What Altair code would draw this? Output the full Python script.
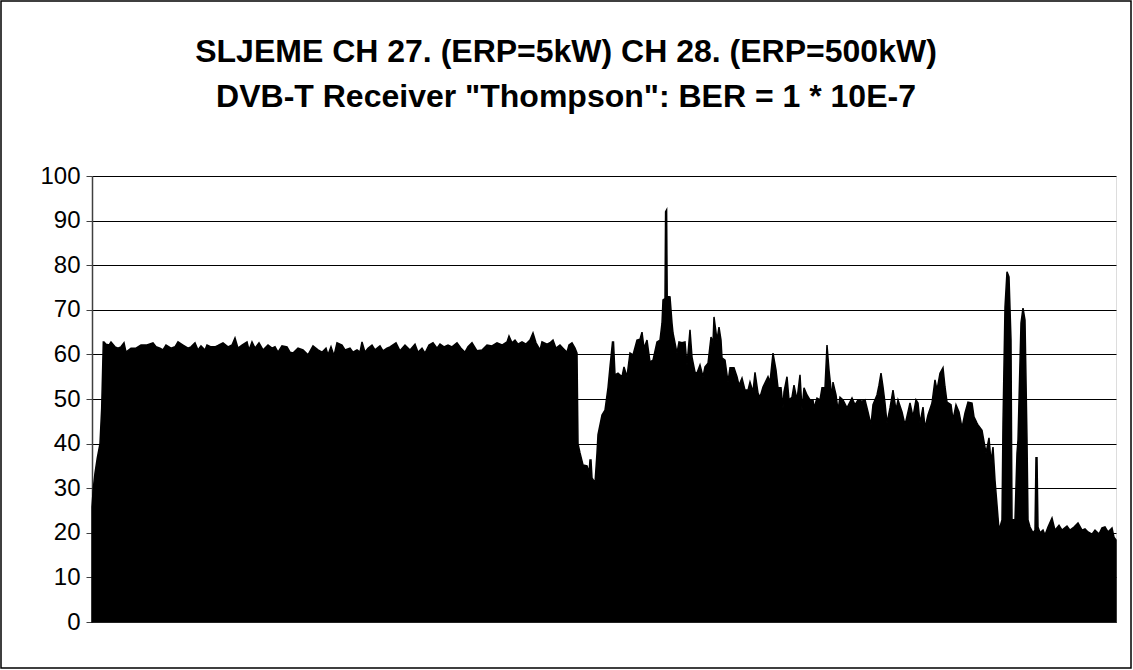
import altair as alt
import pandas as pd

# Spectrum trace: position along the sweep (0..1024) and level (0..100)
pos = [0, 1.3, 3, 5.3, 8, 9.7, 11.3, 12, 14, 17, 19, 23, 26, 29, 32, 34, 39, 44, 49, 55, 61, 64, 68, 71, 74, 79, 83, 86, 91, 96, 99, 103, 106, 109, 113, 115, 119, 123, 126, 131, 136, 140, 143, 146, 150, 155, 157, 160, 163, 167, 171, 176, 180, 183, 186, 190, 195, 198, 201, 206, 211, 216, 221, 226, 230, 234, 236, 239, 242, 245, 250, 253, 258, 261, 265, 268, 270, 273, 276, 280, 283, 288, 291, 295, 298, 304, 308, 313, 318, 323, 326, 330, 333, 337, 341, 345, 348, 352, 356, 360, 365, 369, 373, 376, 380, 385, 390, 395, 400, 405, 410, 415, 417, 420, 423, 426, 430, 434, 438, 441, 444, 448, 450, 455, 458, 461, 464, 468, 471, 475, 477, 480, 483, 485, 486, 488, 491, 495, 497, 498, 499, 500, 503, 505, 506, 510, 513, 516, 518, 520.5, 521.5, 523, 526, 530, 532, 535, 538, 541, 545, 548, 550, 552, 555, 558, 561, 565, 568, 570, 571, 573, 573.6, 574.6, 575.2, 578, 580, 581, 585, 587, 590, 593, 595, 598, 600, 603, 605, 608, 611, 613, 616, 619, 621, 622, 625, 627, 629, 630, 633, 636, 638, 642, 645, 647, 650, 653, 656, 658, 661, 663, 666, 668, 671, 676, 678, 681, 684, 686, 689, 691, 692, 695, 697, 700, 702, 705, 708, 710, 712, 715, 718, 721, 722, 725, 728, 730, 733, 735, 737, 740, 741, 744, 746, 748, 751, 755, 760, 763, 766, 770, 773, 776, 779, 781, 785, 787, 789, 791, 793, 795, 798, 801, 804, 806, 810, 813, 816, 818, 821, 824, 826, 828, 831, 833, 836, 840, 843, 845, 848, 851, 853, 855, 859, 861, 864, 867, 870, 873, 876, 880, 882, 885, 886, 890, 894, 897, 899, 901, 903, 906, 907, 910, 911, 913, 915, 917, 919, 920, 923, 925, 926, 929, 931, 933, 935, 936, 938, 941, 943, 944, 945, 946, 948, 951, 953, 956, 960, 963, 967, 970, 975, 978, 982, 986, 990, 993, 996, 1000, 1003, 1007, 1010, 1013, 1016, 1020, 1022, 1024]

level = [25.8, 30.0, 33.4, 36.8, 40.0, 48.0, 62.8, 62.8, 62.3, 62.1, 62.8, 61.7, 61.4, 61.7, 62.6, 60.5, 61.4, 61.4, 62.1, 62.1, 62.6, 61.7, 61.4, 61.0, 62.1, 61.4, 61.7, 62.8, 62.1, 61.4, 61.7, 62.6, 61.0, 61.9, 61.0, 62.1, 61.7, 61.7, 62.0, 62.6, 61.7, 62.1, 63.7, 61.4, 62.1, 62.8, 61.0, 62.8, 61.4, 62.6, 61.0, 62.1, 61.4, 61.7, 60.5, 61.9, 61.7, 60.5, 60.3, 61.4, 61.0, 59.9, 61.9, 61.0, 60.5, 61.4, 59.9, 61.7, 59.7, 62.6, 62.1, 61.0, 61.4, 60.5, 61.0, 60.5, 62.8, 60.5, 61.4, 62.1, 61.0, 61.9, 60.8, 61.4, 61.7, 62.6, 60.8, 62.1, 61.0, 62.3, 60.5, 61.4, 60.3, 62.1, 62.6, 61.4, 62.3, 61.7, 62.1, 61.7, 62.6, 61.4, 60.5, 61.7, 62.6, 60.8, 61.0, 62.1, 61.9, 62.6, 62.1, 62.8, 64.1, 62.6, 63.2, 62.3, 62.8, 62.3, 63.2, 64.8, 62.6, 61.0, 62.8, 62.3, 62.6, 63.2, 61.4, 62.1, 61.4, 60.5, 62.1, 62.6, 61.4, 60.3, 40.0, 37.9, 35.2, 35.0, 33.5, 36.3, 36.3, 32.3, 31.2, 37.9, 42.0, 46.4, 47.5, 52.5, 57.2, 62.8, 62.8, 55.4, 55.8, 55.0, 57.2, 55.0, 60.3, 59.9, 63.2, 63.4, 65.0, 61.4, 63.2, 58.3, 58.7, 62.8, 63.2, 67.0, 72.2, 72.5, 92.0, 92.4, 73.0, 72.9, 67.0, 64.8, 60.3, 62.8, 62.6, 62.8, 57.6, 65.5, 59.4, 56.0, 55.8, 57.6, 55.0, 57.2, 58.0, 63.9, 62.6, 68.4, 63.2, 66.1, 63.2, 59.2, 58.7, 53.8, 57.0, 57.0, 55.0, 53.1, 54.7, 52.0, 52.0, 53.8, 51.6, 56.0, 51.3, 50.4, 52.7, 55.0, 53.8, 60.3, 56.5, 52.5, 52.5, 48.0, 51.6, 55.0, 49.8, 50.4, 53.1, 49.8, 55.4, 47.5, 52.5, 50.9, 49.8, 49.8, 48.0, 50.2, 49.8, 52.5, 52.5, 62.1, 56.5, 50.2, 53.8, 50.9, 47.5, 50.4, 49.8, 48.0, 50.2, 48.7, 49.8, 49.5, 49.8, 47.1, 44.2, 48.7, 50.9, 53.1, 55.8, 52.7, 49.1, 44.6, 48.0, 52.0, 47.5, 49.8, 47.1, 44.2, 47.1, 49.1, 46.0, 49.8, 49.1, 44.6, 48.2, 43.5, 46.4, 49.1, 54.3, 52.0, 55.8, 57.0, 52.7, 49.3, 48.7, 45.3, 48.7, 47.1, 43.5, 46.9, 49.3, 49.1, 46.0, 44.6, 44.2, 43.0, 37.9, 41.3, 35.9, 39.2, 31.8, 23.5, 20.6, 22.9, 44.6, 70.6, 78.5, 77.4, 63.2, 22.9, 22.9, 37.9, 40.8, 67.0, 70.4, 67.7, 40.8, 22.9, 21.3, 20.0, 20.6, 36.8, 36.8, 21.3, 20.0, 20.6, 19.5, 21.3, 23.3, 20.6, 21.7, 20.6, 21.5, 20.6, 21.3, 22.2, 20.6, 20.9, 20.2, 19.7, 20.6, 19.7, 21.1, 21.3, 20.2, 21.1, 19.0, 18.4]

title_lines = ['SLJEME CH 27. (ERP=5kW) CH 28. (ERP=500kW)',
               'DVB-T Receiver "Thompson": BER = 1 * 10E-7']
y_ticks = list(range(0, 101, 10))

FONT = "Liberation Sans"
W, H = 1024, 446

df = pd.DataFrame({"pos": pos, "level": level})

area = alt.Chart(df).mark_area(
    color="black", stroke="black", strokeWidth=1.5, interpolate="linear"
).encode(
    x=alt.X("pos:Q", scale=alt.Scale(domain=[0, 1024], nice=False, zero=False),
            axis=alt.Axis(labels=False, ticks=False, title=None, grid=False,
                          domainColor="#808080", domainWidth=1)),
    y=alt.Y("level:Q", scale=alt.Scale(domain=[0, 100], nice=False),
            axis=alt.Axis(values=y_ticks, title=None, grid=True, gridColor="black",
                          gridWidth=1, gridOpacity=1, labelFont=FONT, labelFontSize=24,
                          labelColor="black", labelPadding=6, tickSize=6,
                          tickColor="#404040", domainColor="#404040", domainWidth=1.5)),
)

tdf = pd.DataFrame({"t": title_lines, "yy": [-114, -69]})
titles = alt.Chart(tdf).mark_text(
    font=FONT, fontSize=32, fontWeight="bold", color="black",
    align="center", baseline="alphabetic"
).encode(
    text="t:N",
    x=alt.value(566 - 92),
    y=alt.Y("yy:Q", scale=None),
)

border = alt.Chart(pd.DataFrame({"k": [0]})).mark_rect(
    fill=None, stroke="black", strokeWidth=1.5
).encode(
    x=alt.value(-91), x2=alt.value(1131 - 92),
    y=alt.value(-175), y2=alt.value(668 - 176),
)

chart = alt.layer(area, titles, border).properties(
    width=W, height=H,
    autosize=alt.AutoSizeParams(type="none"),
    padding={"left": 92, "top": 176, "right": 17, "bottom": 48},
).configure_view(
    fill="#C0C0C0", stroke="#808080", strokeWidth=1
).configure(background="white")

chart.save("out.html", embed_options={"renderer": "svg", "actions": False})
